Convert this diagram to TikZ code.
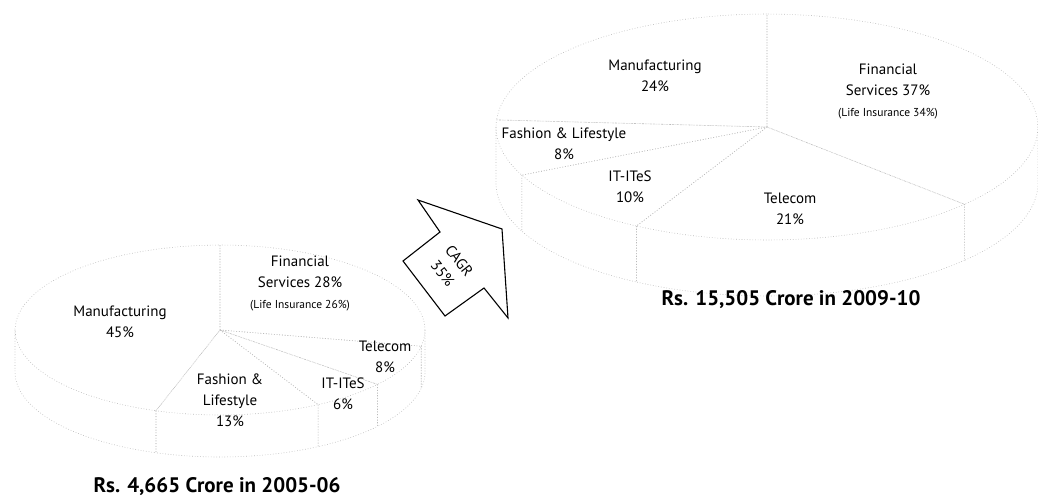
\documentclass[tikz,border=0pt]{standalone}
\usepackage{fontspec}
\setmainfont{PT Sans}
\usetikzlibrary{positioning}

\tikzset{
  rim/.style={dash pattern=on 0.7pt off 2pt, gray!55, line width=0.6pt},
  lbl/.style={align=center, font=\fontsize{15}{21}\selectfont, inner sep=0pt},
  total/.style={font=\fontsize{21}{24}\selectfont\bfseries, inner sep=0pt},
  growth/.style={draw=black, line width=1.1pt, line join=miter},
}
\newcommand{\sm}[1]{{\fontsize{11.5}{14}\selectfont #1}}

% 3D pie: centre x, centre y, x radius, y radius, height, slices s/e
\newcommand{\drawpie}[6]{%
  \foreach \s/\e in {#6} {
    \draw[rim] (#1,#2) -- plot[domain=\e:\s, samples=30] ({#1+#3*cos(\x)},{#2-#4*sin(\x)}) -- cycle;
    \pgfmathsetmacro\vs{min(\s,0)}
    \pgfmathsetmacro\ve{max(\e,-180)}
    \ifdim\vs pt>\ve pt
      \draw[rim] ({#1+#3*cos(\ve)},{#2-#4*sin(\ve)}) -- ++(0,#5)
        -- plot[domain=\ve:\vs, samples=30] ({#1+#3*cos(\x)},{#2-#4*sin(\x)+#5})
        -- ({#1+#3*cos(\vs)},{#2-#4*sin(\vs)});
    \fi
  }
}

\begin{document}
\begin{tikzpicture}[x=1pt,y=-1pt]
\useasboundingbox (0,0) rectangle (1038,500);

% Pie for 2005-06
\drawpie{220}{330}{205}{85}{42}{90/-11, -11/-39.8, -39.8/-61.4, -61.4/-108.2, -108.2/-270}

\node[lbl] (manu1) at (120,322) {Manufacturing\\45\%};
\node[lbl] (fin1) at (300,283) {Financial\\Services 28\%\\\sm{(Life Insurance 26\%)}};
\node[lbl] (tel1) at (385,357) {Telecom\\8\%};
\node[lbl] (it1) at (343,394) {IT-ITeS\\6\%};
\node[lbl] (fash1) at (230,400) {Fashion \&\\Lifestyle\\13\%};
\node[total] (year1) at (217,487) {Rs. 4,665 Crore in 2005-06};

% Growth arrow
\draw[growth] (418,200) -- (440,232) -- (403,261) -- (445,316) -- (484,288)
  -- (508,318) -- (502,229) -- cycle;
\node[lbl, rotate=-52] (cagr) at (451,267) {CAGR\\35\%};

% Pie for 2009-10
\drawpie{767}{127}{271}{113}{56}{90/-43.2, -43.2/-118.8, -118.8/-154.8, -154.8/-183.6, -183.6/-270}

\node[lbl] (manu2) at (655,76) {Manufacturing\\24\%};
\node[lbl] (fin2) at (888,91) {Financial\\Services 37\%\\\sm{(Life Insurance 34\%)}};
\node[lbl] (fash2) at (564,144) {Fashion \& Lifestyle\\8\%};
\node[lbl] (it2) at (630,187) {IT-ITeS\\10\%};
\node[lbl] (tel2) at (790,209) {Telecom\\21\%};
\node[total] (year2) at (791,300) {Rs. 15,505 Crore in 2009-10};
\end{tikzpicture}
\end{document}
